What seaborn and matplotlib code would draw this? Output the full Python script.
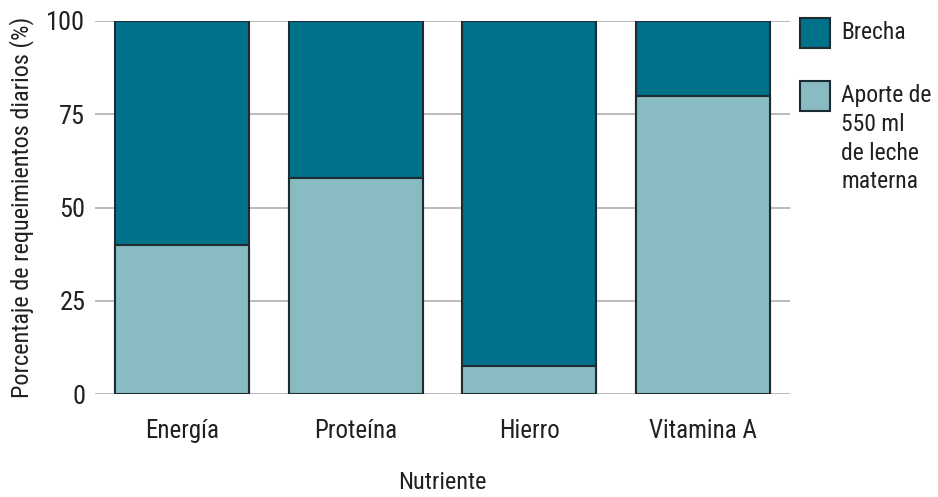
import matplotlib
matplotlib.use("Agg")
import matplotlib.pyplot as plt
import seaborn as sns
import pandas as pd
from matplotlib.patches import Rectangle
from matplotlib import font_manager

nutrientes = ["Energía", "Proteína", "Hierro", "Vitamina A"]
aporte = [40, 58, 7.5, 80]
total = [100, 100, 100, 100]
yticks = [0, 25, 50, 75, 100]
legend_labels = ["Brecha", "Aporte de\n550 ml\nde leche\nmaterna"]

dark = "#00718A"
light = "#88BBC2"
edge = "#1E2B30"
txt = "#231F20"

sns.set_theme(style="white")
names = {f.name for f in font_manager.fontManager.ttflist}
fam = [f for f in ["Liberation Sans Narrow", "Roboto Condensed", "DejaVu Sans Condensed"] if f in names]
plt.rcParams["font.family"] = fam + ["DejaVu Sans"]

df = pd.DataFrame({"Nutriente": nutrientes, "aporte": aporte, "total": total})

fig = plt.figure(figsize=(9.38, 4.97), dpi=100)
ax = fig.add_axes([95/938, 1-394/497, (790-95)/938, (394-21)/497])

sns.barplot(data=df, x="Nutriente", y="total", color=dark, width=0.77,
            edgecolor=edge, linewidth=1.5, saturation=1, ax=ax, zorder=2)
sns.barplot(data=df, x="Nutriente", y="aporte", color=light, width=0.77,
            edgecolor=edge, linewidth=1.5, saturation=1, ax=ax, zorder=3)

ax.set_xlim(-0.5, 3.5)
ax.set_ylim(0, 100)
ax.set_yticks(yticks)
ax.set_yticklabels([str(v) for v in yticks])
ax.grid(axis="y", color="#B0B0B0", linewidth=1.2, zorder=0)
ax.set_axisbelow(True)
for s in ax.spines.values():
    s.set_visible(False)
ax.tick_params(axis="both", length=0, colors=txt)
ax.tick_params(axis="y", pad=7, labelsize=19)
ax.tick_params(axis="x", pad=18, labelsize=18)
ax.set_xlabel("Nutriente", fontsize=17.5, color=txt, labelpad=20)
ax.set_ylabel("Porcentaje de requeimientos diarios (%)", fontsize=17.5, color=txt, labelpad=9)

# legend
for (y0, col, lab) in [(18, dark, legend_labels[0]), (81, light, legend_labels[1])]:
    fig.patches.append(Rectangle((800/938, 1-(y0+30)/497), 30/938, 30/497,
                                 transform=fig.transFigure, facecolor=col,
                                 edgecolor=edge, linewidth=1.5))
    fig.text(841/938, 1-(y0+3)/497, lab, ha="left", va="top", fontsize=17,
             color=txt, linespacing=1.32)

fig.savefig("out.png", dpi=100)
